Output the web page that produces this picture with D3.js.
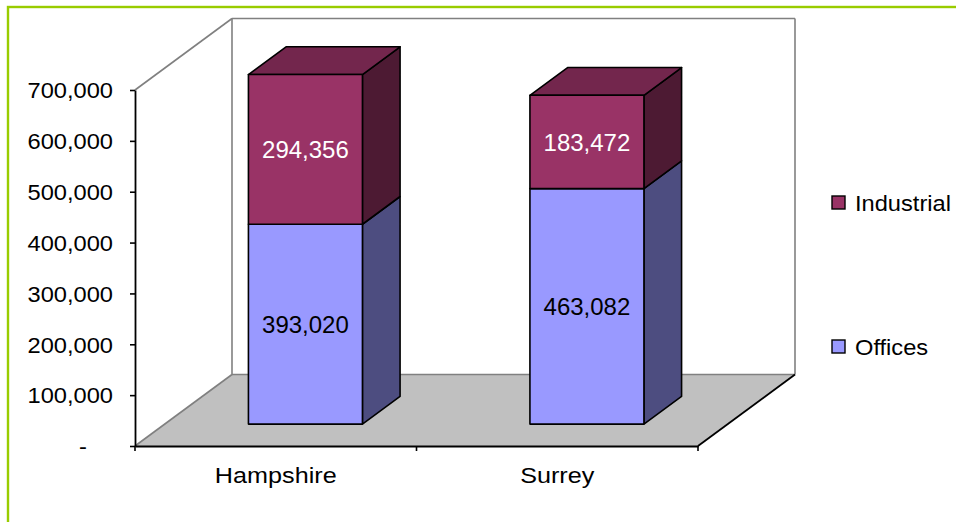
<!DOCTYPE html>
<html><head><meta charset="utf-8">
<script src="https://cdn.jsdelivr.net/npm/d3@7"></script>
<style>body{margin:0;background:#fff}svg{display:block}</style>
</head><body>
<svg id="c" width="956" height="522"></svg>
<script>
const categories = ["Hampshire", "Surrey"];
const offices = [393020, 463082];
const industrial = [294356, 183472];
const tickValues = [0, 100000, 200000, 300000, 400000, 500000, 600000, 700000];
const seriesNames = ["Industrial", "Offices"];

const svg = d3.select("#c");
const FONT = "'Liberation Sans', Arial, sans-serif";

// border
svg.append("rect").attr("x",8).attr("y",7).attr("width",1000).attr("height",600)
  .attr("fill","none").attr("stroke","#99cc00").attr("stroke-width",2.4);

const x0 = 135, x1 = 698;
const y = d3.scaleLinear().domain([0,700000]).range([446,90]);
const xBand = d3.scaleBand().domain(categories).range([x0,x1]);
const DX = 97, DY = -71.5;
const f0 = 0.306, f1 = 0.694;
const barW = xBand.bandwidth()*0.405;

const pt = (x, v, f) => [x + f*DX, y(v) + f*DY];
const poly = pts => pts.map(p=>p.join(",")).join(" ");

// back wall & floor
const yTop = y(700000), yBot = y(0);
svg.append("polygon").attr("points", poly([[x0,yBot],[x1,yBot],[x1+DX,yBot+DY],[x0+DX,yBot+DY]]))
  .attr("fill","#c0c0c0").attr("stroke","none");
const gray = "#808080";
const line = (a,b,c,w) => svg.append("line").attr("x1",a[0]).attr("y1",a[1]).attr("x2",b[0]).attr("y2",b[1])
   .attr("stroke",c).attr("stroke-width",w||1.6);
line([x0,yTop],[x0+DX,yTop+DY],gray);
line([x0+DX,yTop+DY],[x1+DX,yTop+DY],gray);
line([x0+DX,yTop+DY],[x0+DX,yBot+DY],gray);
line([x1+DX,yTop+DY],[x1+DX,yBot+DY],gray);
line([x0+DX,yBot+DY],[x1+DX,yBot+DY],gray);
line([x0,yBot],[x0+DX,yBot+DY],gray);
line([x1,yBot],[x1+DX,yBot+DY],"#000",1.8);

// bars
const colors = {
  Offices: {front:"#9999ff", side:"#4d4d80", top:"#7373bf"},
  Industrial: {front:"#993366", side:"#4d1a33", top:"#73264d"}
};
categories.forEach((cat,i)=>{
  const cx = xBand(cat) + xBand.bandwidth()/2;
  const L = cx - barW/2, R = cx + barW/2;
  const segs = [
    {name:"Offices", v0:0, v1:offices[i], label:offices[i], tc:"#000"},
    {name:"Industrial", v0:offices[i], v1:offices[i]+industrial[i], label:industrial[i], tc:"#fff"}
  ];
  segs.forEach((s,k)=>{
    const c = colors[s.name];
    const g = svg.append("g").attr("stroke","#000").attr("stroke-width",1.6).attr("stroke-linejoin","round");
    g.append("polygon").attr("fill",c.side).attr("points",poly([pt(R,s.v0,f0),pt(R,s.v0,f1),pt(R,s.v1,f1),pt(R,s.v1,f0)]));
    if (k===segs.length-1)
      g.append("polygon").attr("fill",c.top).attr("points",poly([pt(L,s.v1,f0),pt(R,s.v1,f0),pt(R,s.v1,f1),pt(L,s.v1,f1)]));
    g.append("polygon").attr("fill",c.front).attr("points",poly([pt(L,s.v0,f0),pt(R,s.v0,f0),pt(R,s.v1,f0),pt(L,s.v1,f0)]));
    const p = pt(cx,(s.v0+s.v1)/2,f0);
    svg.append("text").attr("transform",`translate(${p[0]},${p[1]})`)
      .attr("text-anchor","middle").attr("dy","0.36em").attr("font-family",FONT).attr("font-size",24)
      .attr("fill",s.tc).text(d3.format(",")(s.label));
  });
});

// y axis
const yAxis = d3.axisLeft(y).tickValues(tickValues).tickSize(5).tickSizeOuter(0)
  .tickFormat(d => d===0 ? "-" : d3.format(",")(d));
const ga = svg.append("g").attr("transform",`translate(${x0},0)`).call(yAxis);
ga.select(".domain").attr("stroke","#000").attr("stroke-width",1.8);
ga.selectAll(".tick line").attr("stroke","#000").attr("stroke-width",1.6);
ga.selectAll(".tick text").attr("x",null).attr("dy",null)
  .attr("transform",d=>`translate(${d===0?-48:-22},0) scale(1.1,1)`).attr("dy","0.36em")
  .attr("font-family",FONT).attr("font-size",21.5).attr("fill","#000");

// x axis
const xAxis = d3.axisBottom(xBand).tickSize(0).tickSizeOuter(0);
const gx = svg.append("g").attr("transform",`translate(0,${yBot})`).call(xAxis);
gx.select(".domain").attr("stroke","#000").attr("stroke-width",1.8);
gx.selectAll(".tick text").attr("y",null).attr("dy",null)
  .attr("transform",`translate(0,37) scale(1.12,1)`)
  .attr("font-family",FONT).attr("font-size",22.5).attr("fill","#000");
const bounds = categories.map(c=>xBand(c)).concat([x1]);
gx.selectAll(".bt").data(bounds).enter().append("line")
  .attr("x1",d=>d).attr("x2",d=>d).attr("y1",0).attr("y2",5).attr("stroke","#000").attr("stroke-width",1.6);

// legend
const legY = {Industrial: 203, Offices: 347};
seriesNames.forEach(n=>{
  svg.append("rect").attr("x",832).attr("y",legY[n]-7).attr("width",13).attr("height",13)
    .attr("fill",colors[n].front).attr("stroke","#000").attr("stroke-width",1.4);
  svg.append("text").attr("transform",`translate(855,${legY[n]}) scale(1.1,1)`)
    .attr("dy","0.36em").attr("font-family",FONT).attr("font-size",21.5).attr("fill","#000").text(n);
});
</script>
</body></html>
